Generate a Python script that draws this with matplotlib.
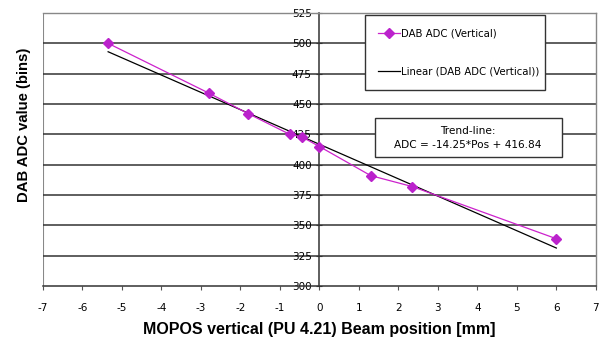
import matplotlib
matplotlib.use("Agg")
import matplotlib.pyplot as plt
from matplotlib.patches import Rectangle
import numpy as np

pos = [-5.35, -2.8, -1.8, -0.75, -0.45, 0.0, 1.3, 2.35, 6.0]
adc = [500, 459, 442, 425, 423, 415, 391, 382, 339]
slope, intercept = -14.25, 416.84
xticks = list(range(-7, 8))
yticks = list(range(300, 526, 25))

plt.rcParams['font.family'] = ['Liberation Sans', 'DejaVu Sans']
plt.rcParams['axes.unicode_minus'] = False

fig = plt.figure(figsize=(6.13, 3.48), dpi=100)
ax = fig.add_axes([0.0701, 0.178, 0.9019, 0.7846])
ax.set_xlim(-7, 7)
ax.set_ylim(300, 525)

for y in yticks[1:]:
    ax.axhline(y, color='#333333', lw=1.1, zorder=1)

xs = np.array([min(pos), max(pos)])
ax.plot(xs, slope * xs + intercept, color='black', lw=0.9, zorder=3,
        label='Linear (DAB ADC (Vertical))')
ax.plot(pos, adc, color='#cc22cc', lw=0.9, marker='D', markersize=5,
        markerfacecolor='#bb22cc', markeredgecolor='#bb22cc', zorder=4,
        label='DAB ADC (Vertical)')

ax.spines['left'].set_position(('data', 0))
ax.spines['left'].set_color('#333333')
ax.spines['left'].set_linewidth(1.1)
for s in ['top', 'right']:
    ax.spines[s].set_color('#888888')
    ax.spines[s].set_linewidth(1.0)
ax.spines['bottom'].set_color('#333333')
ax.spines['bottom'].set_linewidth(1.1)
ax.axvline(-7, color='#888888', lw=1.5, zorder=0.5)

ax.set_xticks(xticks)
ax.set_yticks(yticks)
for lab in ax.get_xticklabels() + ax.get_yticklabels():
    lab.set_family(['DejaVu Sans'])
ax.tick_params(axis='x', direction='out', length=3, labelsize=7.5, pad=9.5, color='#555555')
ax.tick_params(axis='y', direction='inout', length=5, labelsize=7.5, pad=3, color='#333333')

ax.set_xlabel('MOPOS vertical (PU 4.21) Beam position [mm]', fontsize=11.5, fontweight='bold', labelpad=6)
fig.text(0.039, 0.64, 'DAB ADC value (bins)', rotation=90, fontsize=10.7, fontweight='bold',
         ha='center', va='center')

handles, labels = ax.get_legend_handles_labels()
leg = ax.legend(handles[::-1], labels[::-1], loc='upper left', bbox_to_anchor=(0.582, 0.993, 0.326, 0.0),
                mode='expand', prop={'family': 'DejaVu Sans', 'size': 7.3}, frameon=True, fancybox=False,
                edgecolor='#333333', framealpha=1, borderpad=1.3, labelspacing=2.8, handlelength=2.2,
                handletextpad=0.1, borderaxespad=0)
leg.get_frame().set_linewidth(1.0)
leg.set_zorder(10)

ax.add_patch(Rectangle((0.600, 0.4725), 0.3385, 0.1425, transform=ax.transAxes,
                       facecolor='white', edgecolor='#333333', lw=1.0, zorder=9))
ax.text(0.769, 0.544, 'Trend-line:\nADC = -14.25*Pos + 416.84', transform=ax.transAxes,
        ha='center', va='center', fontsize=7.6, family='DejaVu Sans', linespacing=1.5, zorder=10)

fig.savefig('out.png', dpi=100)
